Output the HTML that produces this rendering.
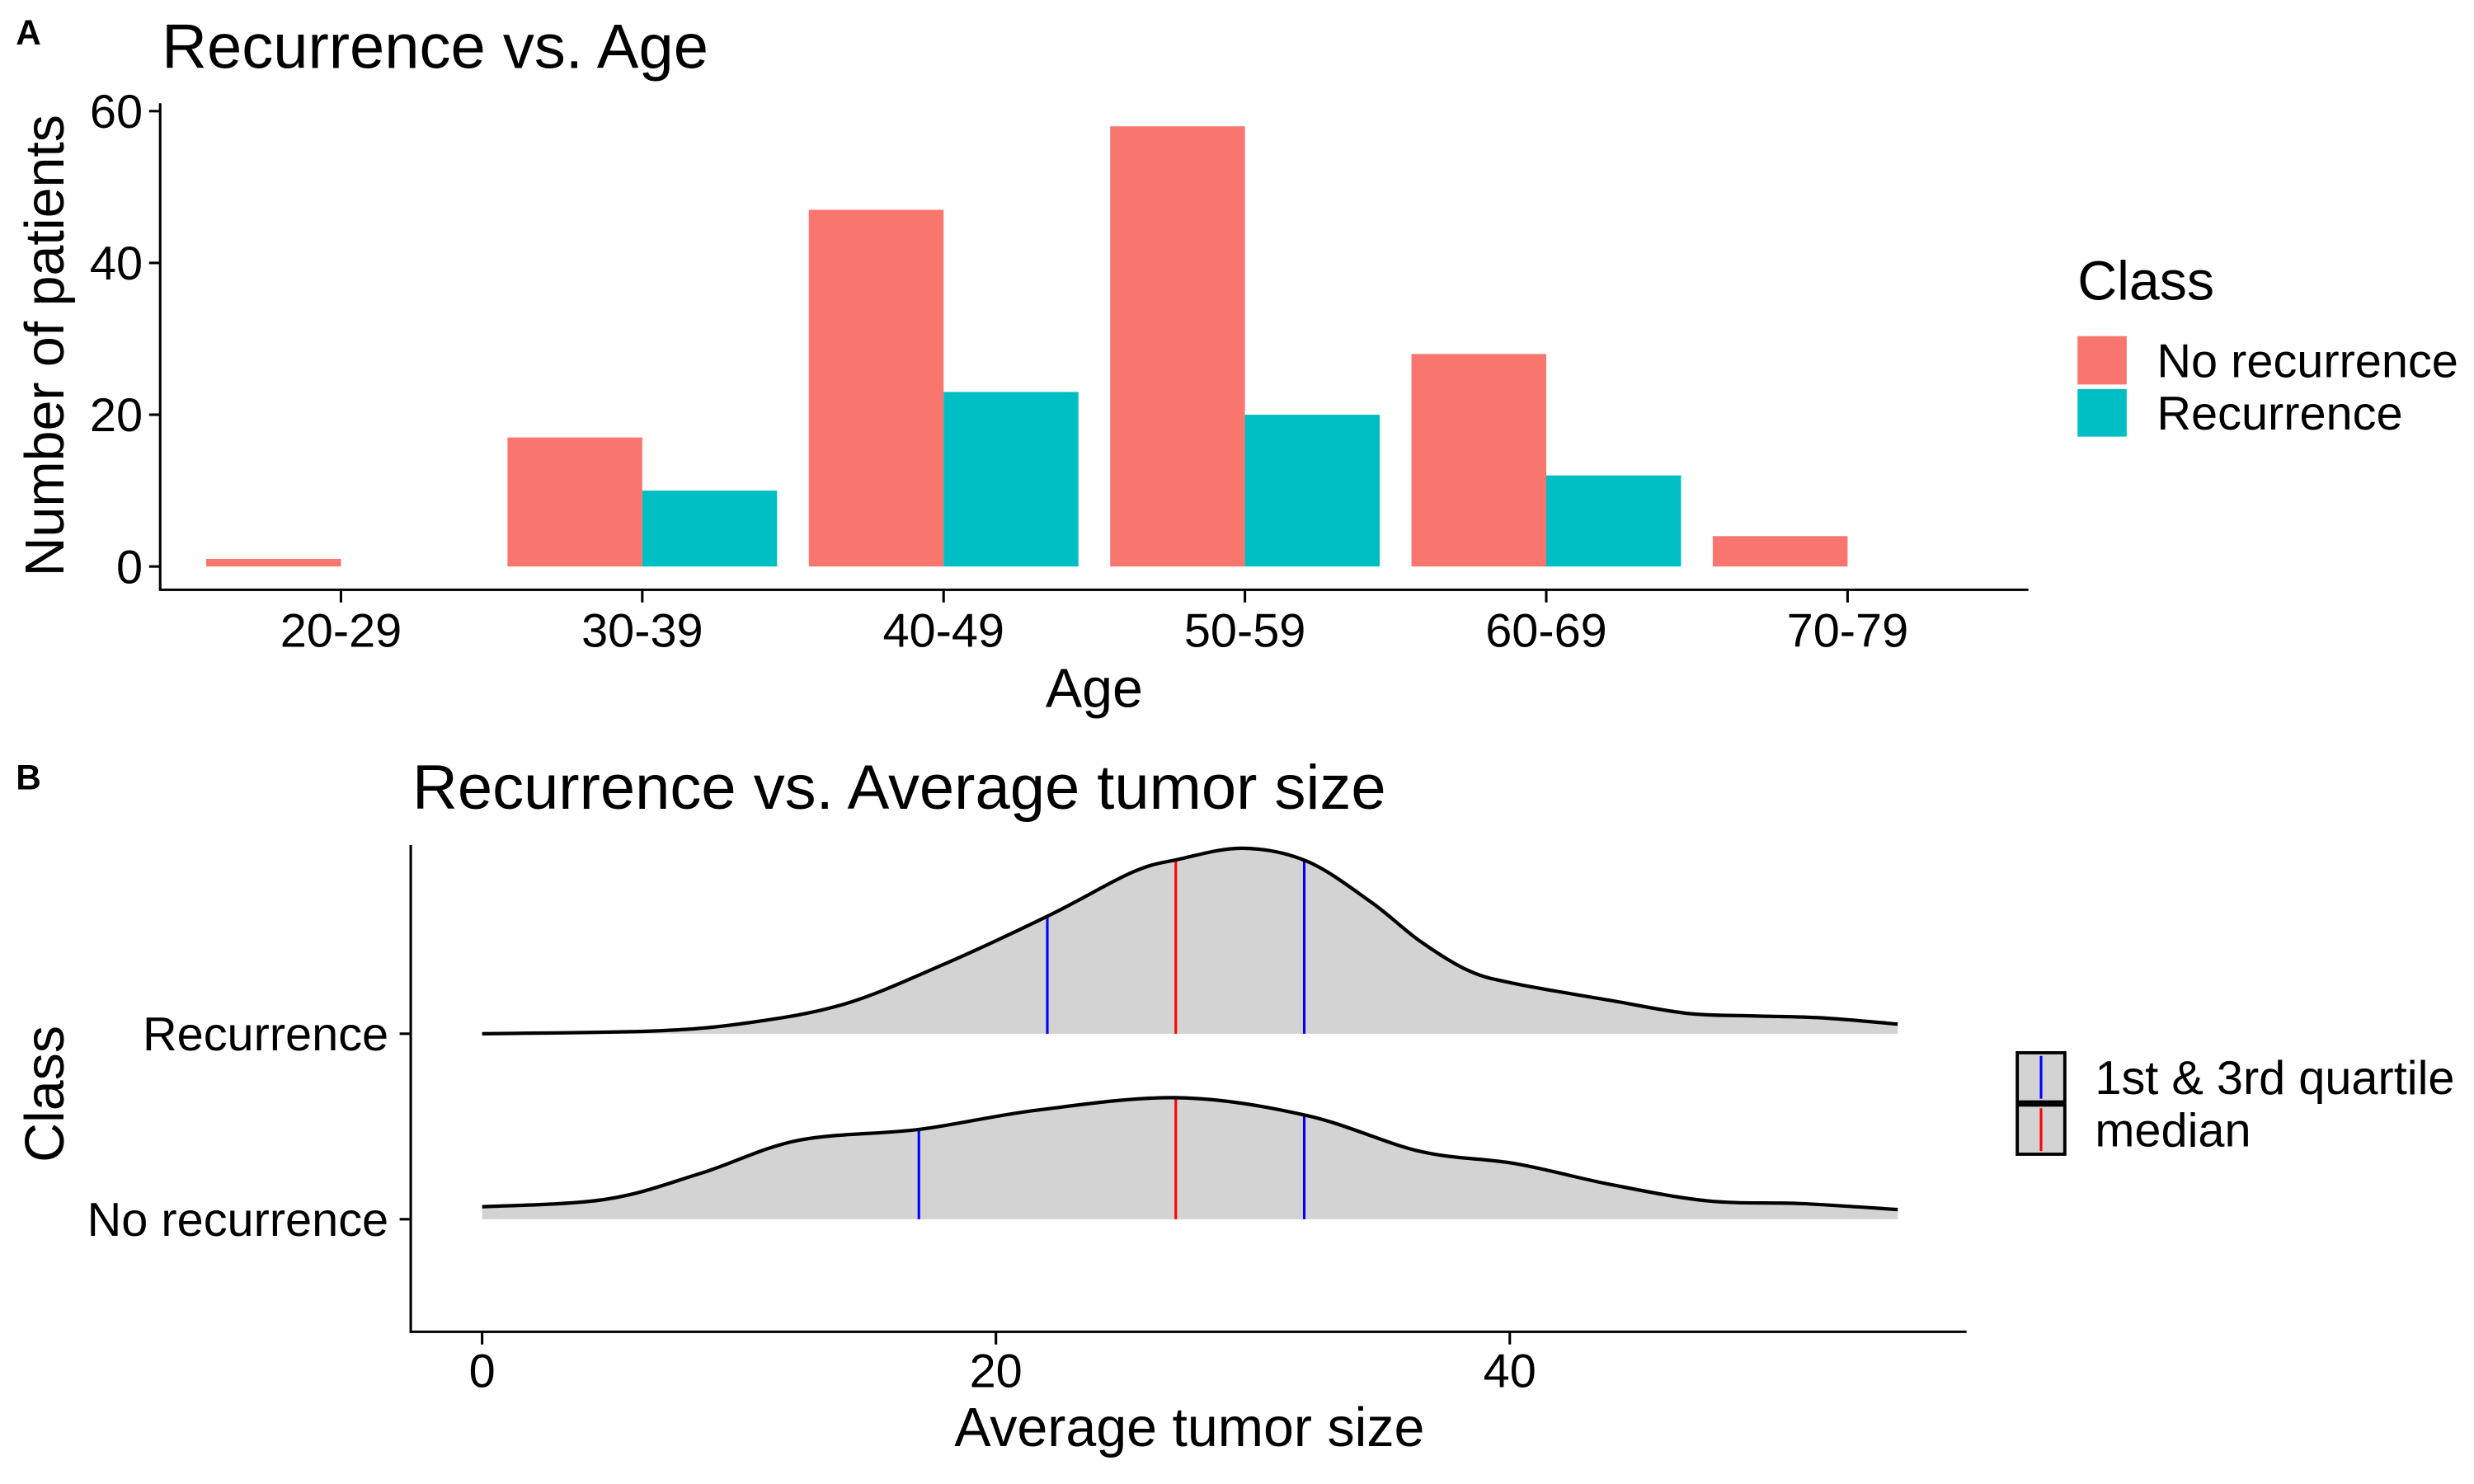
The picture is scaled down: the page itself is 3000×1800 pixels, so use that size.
<!DOCTYPE html>
<html><head><meta charset="utf-8"><style>
html,body{margin:0;padding:0;background:#fff;}
svg{display:block;font-family:"Liberation Sans",Arial,sans-serif;}
</style></head><body>
<svg id="chart" width="3000" height="1800" viewBox="0 0 1560 936" xmlns="http://www.w3.org/2000/svg">
<rect width="1560" height="936" fill="#fff"/>
<g id="panelA"></g>
<g id="panelB"></g>
</svg>
<script>
// Panel A data
const ageCategories = ["20-29","30-39","40-49","50-59","60-69","70-79"];
const noRecurrence = [1,17,47,58,28,4];
const recurrence = [0,10,23,20,12,0];
const yTicksA = [0,20,40,60];
// Panel B data
const sizeTicks = [0,20,40];
const recX = [0,6.7,10.4,14.1,17.9,22.1,25.3,27.1,29.6,32.1,34.6,36.5,38.4,40.2,43.9,46.9,49.5,52.1,55.1];
const recD = [0,0.015,0.06,0.16,0.37,0.64,0.87,0.94,1.0,0.93,0.71,0.50,0.34,0.27,0.18,0.11,0.096,0.086,0.052];
const noRecX = [0,4.8,8.5,12.3,17.0,21.6,27.1,32.1,36.5,40.2,43.9,47.7,51.4,55.1];
const noRecD = [0.067,0.107,0.247,0.425,0.484,0.588,0.655,0.559,0.366,0.30,0.188,0.099,0.084,0.052];
const recQuart = [22,27,32];
const noRecQuart = [17,27,32];

const NS="http://www.w3.org/2000/svg";
function mk(parent,tag,attrs,text){const e=document.createElementNS(NS,tag);for(const k in attrs)e.setAttribute(k,attrs[k]);if(text!==undefined)e.textContent=text;parent.appendChild(e);return e;}

// ---------- Panel A ----------
const A=document.getElementById('panelA');
const xA0=101,xA1=1279,yBase=357.3,yTop=70.1,xAxisY=372;
function yA(v){return yBase-(v/60)*(yBase-yTop);}
function xA(i){return 215+i*190;}
const bw=85;
let t;
t=mk(A,'text',{x:10,y:28,'font-size':22,'font-weight':'bold'},'A');

t=mk(A,'text',{x:102,y:43,'font-size':39.5},'Recurrence vs. Age');

ageCategories.forEach((c,i)=>{
  let r=mk(A,'rect',{x:xA(i)-bw,y:yA(noRecurrence[i]),width:bw,height:yBase-yA(noRecurrence[i]),fill:'#F8766D'});
  
  r=mk(A,'rect',{x:xA(i),y:yA(recurrence[i]),width:bw,height:yBase-yA(recurrence[i]),fill:'#00BFC4'});
  
  mk(A,'line',{x1:xA(i),x2:xA(i),y1:xAxisY,y2:xAxisY+8,stroke:'#000','stroke-width':1.6});
  t=mk(A,'text',{x:xA(i),y:408,'font-size':30,'text-anchor':'middle'},c);
  
});
let l=mk(A,'polyline',{points:`${xA0},${yTop-5} ${xA0},${xAxisY} ${xA1},${xAxisY}`,fill:'none',stroke:'#000','stroke-width':1.6});

yTicksA.forEach(v=>{
  mk(A,'line',{x1:94,x2:xA0,y1:yA(v),y2:yA(v),stroke:'#000','stroke-width':1.6});
  t=mk(A,'text',{x:90,y:yA(v)+10.5,'font-size':30,'text-anchor':'end'},String(v));
  
});
t=mk(A,'text',{x:690,y:446,'font-size':34.5,'text-anchor':'middle'},'Age');

t=mk(A,'text',{x:0,y:0,'font-size':34.5,'text-anchor':'middle',transform:'translate(40,218) rotate(-90)'},'Number of patients');

t=mk(A,'text',{x:1310,y:189,'font-size':34.5},'Class');

let r=mk(A,'rect',{x:1310,y:212,width:31,height:30.5,fill:'#F8766D'});

r=mk(A,'rect',{x:1310,y:245.4,width:31,height:30,fill:'#00BFC4'});

t=mk(A,'text',{x:1360,y:238,'font-size':30},'No recurrence');

t=mk(A,'text',{x:1360,y:271,'font-size':30},'Recurrence');


// ---------- Panel B ----------
const B=document.getElementById('panelB');
function xB(v){return 304+v*16.2;}
const dScale=117;
const recBase=652, noRecBase=769, xAxisB=840;
t=mk(B,'text',{x:10,y:498,'font-size':22,'font-weight':'bold'},'B');

t=mk(B,'text',{x:260,y:510,'font-size':39.5},'Recurrence vs. Average tumor size');

function curvePath(xs,ds,base){
  const p=xs.map((x,i)=>[xB(x),base-ds[i]*dScale]);
  let d=`M${p[0][0]},${p[0][1]}`;
  for(let i=0;i<p.length-1;i++){
    const p0=p[Math.max(0,i-1)],p1=p[i],p2=p[i+1],p3=p[Math.min(p.length-1,i+2)];
    const c1=[p1[0]+(p2[0]-p0[0])/6,p1[1]+(p2[1]-p0[1])/6];
    const c2=[p2[0]-(p3[0]-p1[0])/6,p2[1]-(p3[1]-p1[1])/6];
    d+=` C${c1[0]},${c1[1]} ${c2[0]},${c2[1]} ${p2[0]},${p2[1]}`;
  }
  return {d,p};
}
function interp(xs,ds,v){for(let i=0;i<xs.length-1;i++){if(v>=xs[i]&&v<=xs[i+1]){const f=(v-xs[i])/(xs[i+1]-xs[i]);return ds[i]+f*(ds[i+1]-ds[i]);}}return 0;}
function ridge(xs,ds,quart,base,name){
  const c=curvePath(xs,ds,base);
  const last=c.p[c.p.length-1];
  let e=mk(B,'path',{d:c.d+` L${last[0]},${base} L${c.p[0][0]},${base} Z`,fill:'#D3D3D3',stroke:'none'});
  
  quart.forEach((q,i)=>{
    const h=interp(xs,ds,q)*dScale;
    e=mk(B,'line',{x1:xB(q),x2:xB(q),y1:base,y2:base-h,stroke:i===1?'#FF0000':'#0000FF','stroke-width':1.6});
    
  });
  e=mk(B,'path',{d:c.d,fill:'none',stroke:'#000','stroke-width':2.2});
  
}
ridge(recX,recD,recQuart,recBase,'recurrence');
ridge(noRecX,noRecD,noRecQuart,noRecBase,'no-recurrence');
l=mk(B,'polyline',{points:`259,533 259,${xAxisB} 1240,${xAxisB}`,fill:'none',stroke:'#000','stroke-width':1.6});

sizeTicks.forEach(v=>{
  mk(B,'line',{x1:xB(v),x2:xB(v),y1:xAxisB,y2:xAxisB+8,stroke:'#000','stroke-width':1.6});
  t=mk(B,'text',{x:xB(v),y:875,'font-size':30,'text-anchor':'middle'},String(v));
  
});
[["Recurrence",recBase],["No recurrence",noRecBase]].forEach(([s,y])=>{
  mk(B,'line',{x1:252,x2:259,y1:y,y2:y,stroke:'#000','stroke-width':1.6});
  t=mk(B,'text',{x:245,y:y+10.5,'font-size':30,'text-anchor':'end'},s);
  
});
t=mk(B,'text',{x:750,y:912,'font-size':34.5,'text-anchor':'middle'},'Average tumor size');

t=mk(B,'text',{x:0,y:0,'font-size':34.5,'text-anchor':'middle',transform:'translate(40,690) rotate(-90)'},'Class');

r=mk(B,'rect',{x:1272,y:664,width:30,height:31,fill:'#D3D3D3',stroke:'#000','stroke-width':2});

mk(B,'line',{x1:1287,x2:1287,y1:666,y2:693,stroke:'#0000FF','stroke-width':1.6});
r=mk(B,'rect',{x:1272,y:697,width:30,height:31,fill:'#D3D3D3',stroke:'#000','stroke-width':2});

mk(B,'line',{x1:1287,x2:1287,y1:699,y2:726,stroke:'#FF0000','stroke-width':1.6});
t=mk(B,'text',{x:1321,y:690,'font-size':30},'1st & 3rd quartile');

t=mk(B,'text',{x:1321,y:723,'font-size':30},'median');

</script>
</body></html>
